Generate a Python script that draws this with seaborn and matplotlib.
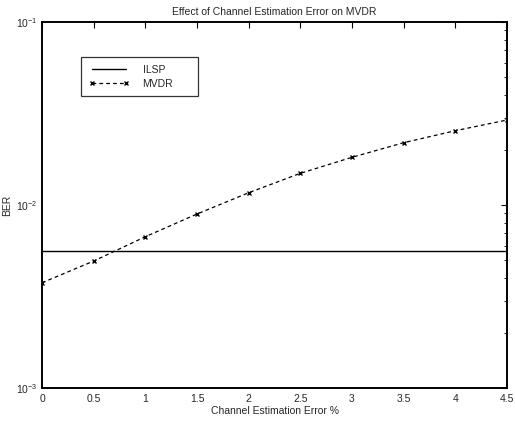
import numpy as np
import pandas as pd
import matplotlib
matplotlib.use("Agg")
import matplotlib.pyplot as plt
import seaborn as sns
from matplotlib.ticker import LogLocator, NullFormatter

# Channel estimation error (%) and resulting bit error rates
error_pct = [0, 0.5, 1, 1.5, 2, 2.5, 3, 3.5, 4, 4.5]
ber_mvdr = [0.00376, 0.00494, 0.00671, 0.00893, 0.01167, 0.0149, 0.01823, 0.0219, 0.02547, 0.02914]
ber_ilsp = [0.0056] * len(error_pct)

sns.set_style("white")
plt.rcParams["font.family"] = ["Liberation Sans", "DejaVu Sans"]
plt.rcParams["font.size"] = 7.5
plt.rcParams["mathtext.fontset"] = "custom"
plt.rcParams["mathtext.rm"] = "Liberation Sans"
plt.rcParams["mathtext.it"] = "Liberation Sans:italic"
plt.rcParams["mathtext.bf"] = "Liberation Sans:bold"
plt.rcParams["axes.unicode_minus"] = False

df = pd.DataFrame({
    "err": error_pct * 2,
    "ber": ber_ilsp + ber_mvdr,
    "method": ["ILSP"] * len(error_pct) + ["MVDR"] * len(error_pct),
})

fig = plt.figure(figsize=(5.15, 4.21), dpi=100)
ax = fig.add_axes([0.0816, 0.0784, 0.9029, 0.8693])

sns.lineplot(data=df[df.method == "ILSP"], x="err", y="ber", ax=ax,
             color="black", linewidth=1.0, label="ILSP")
sns.lineplot(data=df[df.method == "MVDR"], x="err", y="ber", ax=ax,
             color="black", linewidth=0.9, linestyle=(0, (3, 2.5)),
             marker="x", markersize=3.5, markeredgewidth=1.0,
             markeredgecolor="black", markerfacecolor="black", label="MVDR")

ax.set_yscale("log")
ax.set_xlim(0, 4.5)
ax.set_ylim(1e-3, 1e-1)
ax.set_xticks([0, 0.5, 1, 1.5, 2, 2.5, 3, 3.5, 4, 4.5])
ax.set_xticklabels(["0", "0.5", "1", "1.5", "2", "2.5", "3", "3.5", "4", "4.5"])
ax.yaxis.set_major_locator(LogLocator(base=10, numticks=5))
ax.yaxis.set_minor_locator(LogLocator(base=10, subs=np.arange(2, 10), numticks=20))
ax.yaxis.set_minor_formatter(NullFormatter())

ax.tick_params(which="both", direction="in", top=True, right=True,
               color="black", labelsize=7.5)
ax.tick_params(which="major", length=4, width=0.8)
ax.tick_params(which="minor", length=2, width=0.6)
ax.tick_params(axis="x", pad=4)
ax.tick_params(axis="y", pad=3)

for side in ax.spines.values():
    side.set_visible(True)
    side.set_color("black")
    side.set_linewidth(1.4)

ax.set_title("Effect of Channel Estimation Error on MVDR", fontsize=7.5, pad=5)
ax.set_xlabel("Channel Estimation Error %", fontsize=7.5, labelpad=2)
ax.set_ylabel("BER", fontsize=7.5)
ax.yaxis.set_label_coords(-0.064, 0.5)

leg = ax.legend(loc="upper left", bbox_to_anchor=(0.083, 0.0, 0.252, 0.904),
                mode="expand", numpoints=2,
                frameon=True, fancybox=False, fontsize=7.5,
                handlelength=3.9, handletextpad=1.3, borderpad=0.75,
                labelspacing=0.35, borderaxespad=0)
leg.get_frame().set_edgecolor("black")
leg.get_frame().set_linewidth(0.9)

fig.savefig("out.png", dpi=100)
